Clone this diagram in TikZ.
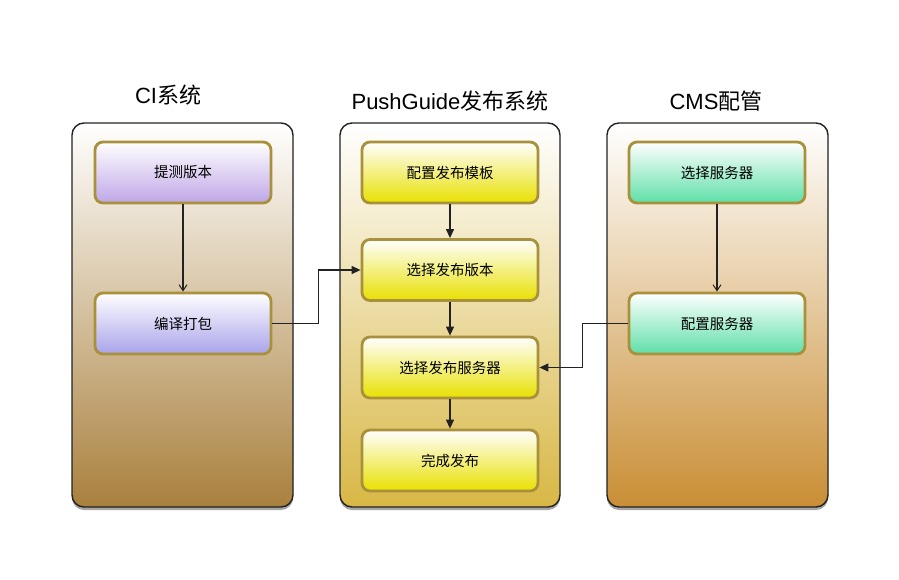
\documentclass[tikz,border=0pt]{standalone}
\usepackage{fontspec}
\setmainfont{Noto Sans CJK SC}
\newfontfamily\latinf{Liberation Sans}
\usetikzlibrary{arrows.meta,shadows}
\definecolor{ciBot}{HTML}{A9803D}
\definecolor{pgBot}{HTML}{D8B745}
\definecolor{cmsBot}{HTML}{C98E35}
\definecolor{boxBorder}{HTML}{A8913A}
\definecolor{purA}{HTML}{BFA6E6}
\definecolor{purB}{HTML}{A9A3EA}
\definecolor{yelB}{HTML}{E8E000}
\definecolor{grnB}{HTML}{5EDFA8}
\definecolor{lineC}{HTML}{222222}
\tikzset{
  panel/.style={draw=lineC, line width=1.4pt, rounded corners=12pt, minimum width=221pt, minimum height=384pt, inner sep=0pt,
    drop shadow={shadow xshift=0pt, shadow yshift=-3pt, opacity=0.35, fill=black}},
  stepbox/.style={draw=boxBorder, line width=2.8pt, rounded corners=8pt, minimum width=176pt, minimum height=61pt, inner sep=0pt, font=\fontsize{14.5}{17}\selectfont},
  title/.style={font=\fontsize{22}{26}\selectfont, inner sep=0pt},
  conn/.style={draw=lineC, line width=1.2pt},
  openarrow/.style={conn, -{Straight Barb[length=6pt,width=8pt,line width=1pt]}},
  fillarrow/.style={conn, -{Triangle[length=9pt,width=8pt]}}
}
\begin{document}
\begin{tikzpicture}[x=1pt,y=-1pt]
\useasboundingbox (0,0) rectangle (899,579);
\fill[white] (0,0) rectangle (899,579);
% panels
\node[panel, top color=white, bottom color=ciBot] (p1) at (182.5,315) {};
\node[panel, top color=white, bottom color=pgBot, minimum width=220pt] (p2) at (450,315) {};
\node[panel, top color=white, bottom color=cmsBot] (p3) at (717.5,315) {};
% titles
\node[title] (t1) at (168,95) {{\latinf CI}系统};
\node[title] (t2) at (450,101) {{\latinf PushGuide}发布系统};
\node[title] (t3) at (716,101) {{\latinf CMS}配管};
% CI boxes
\node[stepbox, top color=white, bottom color=purA] (b1) at (183,172.5) {提测版本};
\node[stepbox, top color=white, bottom color=purB] (b2) at (183,323.5) {编译打包};
% PushGuide boxes
\node[stepbox, top color=white, bottom color=yelB] (m1) at (450,172.5) {配置发布模板};
\node[stepbox, top color=white, bottom color=yelB] (m2) at (450,270) {选择发布版本};
\node[stepbox, top color=white, bottom color=yelB] (m3) at (450,367.5) {选择发布服务器};
\node[stepbox, top color=white, bottom color=yelB] (m4) at (450,460.5) {完成发布};
% CMS boxes
\node[stepbox, top color=white, bottom color=grnB] (c1) at (717,172.5) {选择服务器};
\node[stepbox, top color=white, bottom color=grnB] (c2) at (717,323.5) {配置服务器};
% arrows
\draw[openarrow] (b1) -- (b2);
\draw[openarrow] (c1) -- (c2);
\draw[fillarrow] (m1) -- (m2);
\draw[fillarrow] (m2) -- (m3);
\draw[fillarrow] (m3) -- (m4);
\draw[fillarrow] (b2.east) -- ++(46,0) |- (m2.west);
\draw[fillarrow] (c2.west) -- ++(-45,0) |- (m3.east);
\end{tikzpicture}
\end{document}
